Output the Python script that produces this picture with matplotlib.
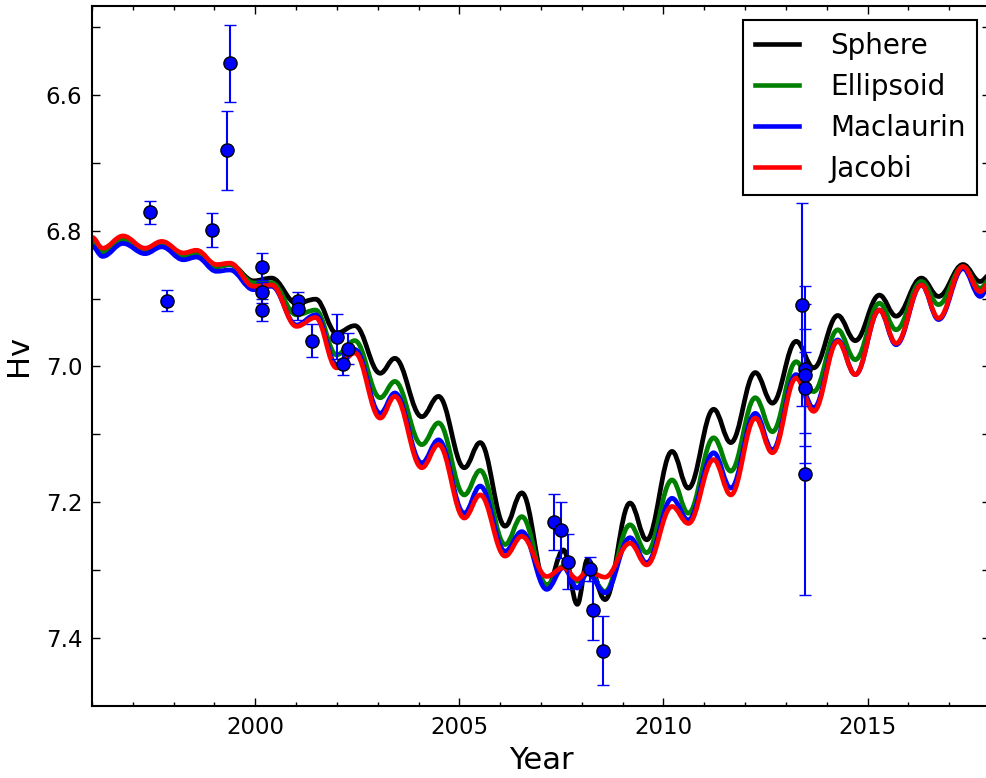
import matplotlib
matplotlib.use("Agg")
import matplotlib.pyplot as plt
from matplotlib.path import Path
from matplotlib.patches import PathPatch
from matplotlib.lines import Line2D
from matplotlib.ticker import FixedLocator, MultipleLocator

# ---------------- data ----------------
# model curves: positions (years) of their turning points and values there
curve_years = [1996.00, 1996.26, 1996.76, 1997.30, 1997.71, 1998.24, 1998.56, 1999.05,
               1999.38, 1999.96, 2000.40, 2001.01, 2001.48, 2001.99, 2002.44, 2003.06,
               2003.42, 2004.08, 2004.49, 2005.12, 2005.51, 2006.12, 2006.53, 2007.14,
               2007.55, 2007.89, 2008.14, 2008.57, 2009.18, 2009.59, 2010.21, 2010.61,
               2011.23, 2011.65, 2012.25, 2012.67, 2013.25, 2013.68, 2014.27, 2014.70,
               2015.29, 2015.70, 2016.32, 2016.74, 2017.34, 2017.76, 2018.00]

sphere = [6.818, 6.834, 6.815, 6.831, 6.822, 6.839, 6.836, 6.853,
          6.850, 6.874, 6.870, 6.907, 6.901, 6.951, 6.940, 7.010,
          6.988, 7.074, 7.044, 7.149, 7.112, 7.235, 7.186, 7.326,
          7.270, 7.350, 7.284, 7.343, 7.201, 7.255, 7.125, 7.179,
          7.063, 7.112, 7.009, 7.054, 6.963, 7.002, 6.925, 6.962,
          6.895, 6.926, 6.870, 6.897, 6.850, 6.875, 6.865]

ellipsoid = [6.815, 6.832, 6.813, 6.829, 6.820, 6.837, 6.833, 6.853,
             6.850, 6.877, 6.877, 6.924, 6.917, 6.983, 6.962, 7.046,
             7.022, 7.115, 7.083, 7.189, 7.153, 7.262, 7.221, 7.321,
             7.294, 7.316, 7.301, 7.331, 7.233, 7.274, 7.167, 7.216,
             7.105, 7.154, 7.046, 7.096, 6.993, 7.037, 6.946, 6.990,
             6.907, 6.946, 6.875, 6.909, 6.853, 6.885, 6.872]

maclaurin = [6.823, 6.838, 6.819, 6.834, 6.824, 6.843, 6.839, 6.860,
             6.858, 6.887, 6.882, 6.939, 6.924, 6.997, 6.975, 7.069,
             7.039, 7.142, 7.108, 7.216, 7.176, 7.272, 7.243, 7.328,
             7.296, 7.326, 7.304, 7.333, 7.252, 7.289, 7.194, 7.226,
             7.127, 7.179, 7.069, 7.123, 7.012, 7.061, 6.961, 7.012,
             6.917, 6.968, 6.880, 6.931, 6.856, 6.897, 6.880]

jacobi = [6.810, 6.826, 6.808, 6.826, 6.816, 6.833, 6.829, 6.850,
          6.848, 6.882, 6.880, 6.941, 6.928, 7.002, 6.980, 7.076,
          7.044, 7.149, 7.115, 7.223, 7.189, 7.279, 7.250, 7.309,
          7.296, 7.313, 7.301, 7.310, 7.260, 7.292, 7.206, 7.231,
          7.137, 7.189, 7.076, 7.127, 7.017, 7.066, 6.963, 7.012,
          6.917, 6.966, 6.880, 6.929, 6.853, 6.890, 6.876]

model_names = ["Sphere", "Ellipsoid", "Maclaurin", "Jacobi"]
model_colors = ["black", "green", "blue", "red"]

# observations
obs_year = [1997.42, 1997.84, 1998.95, 1999.30, 1999.38, 2000.17, 2000.17, 2000.17,
            2001.05, 2001.05, 2001.38, 2001.99, 2002.15, 2002.28, 2007.32, 2007.49,
            2007.66, 2008.20, 2008.28, 2008.52, 2013.39, 2013.47, 2013.47, 2013.47,
            2013.47]
obs_hv = [6.773, 6.903, 6.799, 6.682, 6.554, 6.853, 6.891, 6.917,
          6.904, 6.916, 6.962, 6.956, 6.996, 6.974, 7.229, 7.241,
          7.287, 7.298, 7.359, 7.418, 6.909, 7.003, 7.012, 7.031,
          7.158]
obs_err = [0.017, 0.0155, 0.0245, 0.058, 0.057, 0.020, 0.016, 0.016,
           0.014, 0.016, 0.0245, 0.033, 0.016, 0.023, 0.0415, 0.041,
           0.041, 0.017, 0.043, 0.051, 0.149, 0.095, 0.13, 0.086,
           0.179]

x_major = [2000, 2005, 2010, 2015]
y_major = [6.6, 6.8, 7.0, 7.2, 7.4]
y_minor = [6.5, 6.7, 6.9, 7.1, 7.3, 7.5]

# ---------------- figure ----------------
W, H = 986, 778
fig = plt.figure(figsize=(W / 100, H / 100), dpi=100)
ax = fig.add_axes([92 / W, 1 - 706 / H, (990 - 92) / W, 700 / H])


def smooth_path(xs, ys):
    """Smooth curve through turning points (horizontal tangents there)."""
    verts = [(xs[0], ys[0])]
    codes = [Path.MOVETO]
    for i in range(1, len(xs)):
        dx = xs[i] - xs[i - 1]
        verts += [(xs[i - 1] + dx * 0.38, ys[i - 1]),
                  (xs[i] - dx * 0.38, ys[i]),
                  (xs[i], ys[i])]
        codes += [Path.CURVE4] * 3
    return Path(verts, codes)


series = [sphere, ellipsoid, maclaurin, jacobi]
handles = []
for vals, name, col in zip(series, model_names, model_colors):
    patch = PathPatch(smooth_path(curve_years, vals), facecolor="none",
                      edgecolor=col, lw=3.4, joinstyle="round", capstyle="round",
                      zorder=2)
    ax.add_patch(patch)
    handles.append(Line2D([], [], color=col, lw=3.3, label=name))

ax.errorbar(obs_year, obs_hv, yerr=obs_err, fmt="o", color="blue",
            markerfacecolor="blue", markeredgecolor="black", markeredgewidth=1,
            markersize=9.5, ecolor="blue", elinewidth=1.5, capsize=4.2,
            capthick=1.5, zorder=3)

ax.set_xlim(1996, 2018)
ax.set_ylim(7.4996, 6.4696)

ax.xaxis.set_major_locator(FixedLocator(x_major))
ax.xaxis.set_minor_locator(MultipleLocator(1))
ax.yaxis.set_major_locator(FixedLocator(y_major))
ax.yaxis.set_minor_locator(FixedLocator(y_minor))
ax.set_yticklabels(["%.1f" % v for v in y_major])

ax.tick_params(which="both", direction="in", top=True, right=True, width=1,
               labelsize=16.5, pad=7)
ax.tick_params(axis="x", which="major", length=5.5)
ax.tick_params(axis="x", which="minor", length=3)
ax.tick_params(axis="y", which="both", length=5.5)

for sp in ax.spines.values():
    sp.set_linewidth(1.5)

ax.set_xlabel("Year", fontsize=22, labelpad=5)
ax.set_ylabel("Hv", fontsize=22, labelpad=9)

leg = ax.legend(handles=handles, loc="upper right",
                bbox_to_anchor=(977 / W, 1 - 20 / H),
                bbox_transform=fig.transFigure, borderaxespad=0,
                fontsize=20, fancybox=False, framealpha=1,
                handlelength=1.6, handletextpad=1.1, labelspacing=0.47,
                borderpad=0.42)
leg.get_frame().set_edgecolor("black")
leg.get_frame().set_linewidth(1.5)

fig.savefig("out.png", dpi=100)
